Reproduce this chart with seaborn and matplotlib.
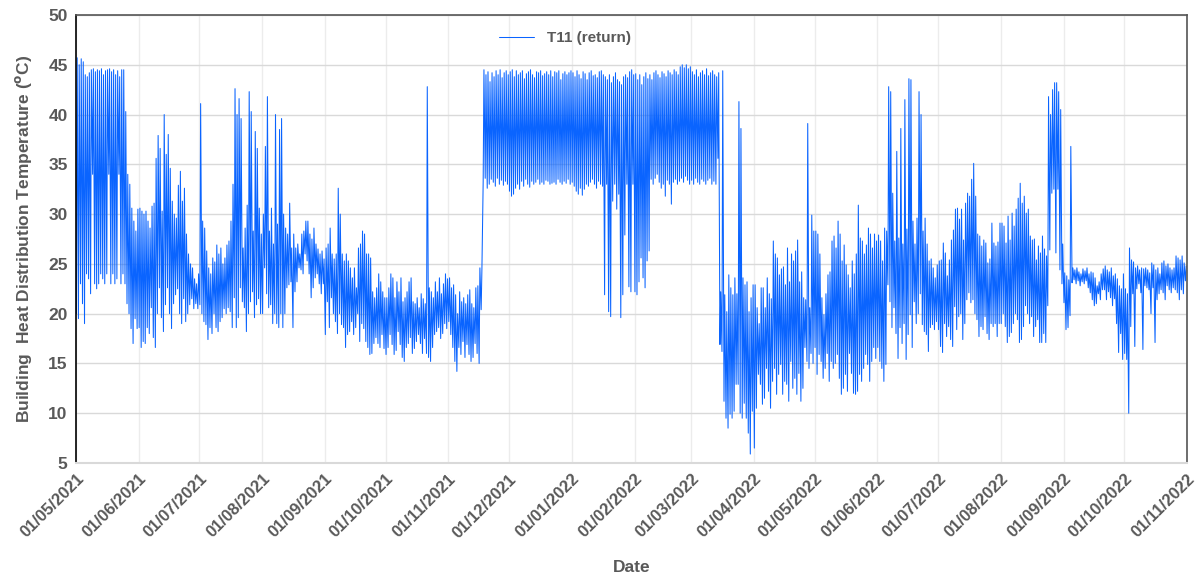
import matplotlib
matplotlib.use("Agg")
import matplotlib.pyplot as plt
import matplotlib.dates as mdates
import numpy as np
import pandas as pd
import seaborn as sns

# Month starts covered by the record
months = ["2021-05", "2021-06", "2021-07", "2021-08", "2021-09", "2021-10",
          "2021-11", "2021-12", "2022-01", "2022-02", "2022-03", "2022-04",
          "2022-05", "2022-06", "2022-07", "2022-08", "2022-09", "2022-10"]

# Daily peak (hi) and trough (lo) of the T11 return temperature, degC
hi_may21 = [45.7, 45.0, 45.6, 45.3, 44.0, 43.8, 44.2, 44.5, 44.6, 44.3, 44.5, 44.4, 44.6, 44.0, 44.4, 44.5,
            44.6, 44.3, 44.5, 44.0, 44.4, 43.8, 44.5, 44.5, 40.3, 34.0, 33.0, 30.6, 29.3, 28.3, 30.5]
lo_may21 = [20.0, 19.5, 23.0, 21.0, 19.0, 24.0, 23.5, 22.0, 34.0, 23.0, 22.5, 23.0, 24.0, 23.5, 23.0, 24.0,
            34.0, 23.0, 24.0, 23.0, 23.5, 34.0, 23.0, 24.0, 23.0, 21.0, 20.0, 18.5, 17.0, 19.5, 18.5]
hi_jun21 = [30.6, 30.3, 30.0, 30.3, 29.3, 28.6, 30.8, 31.1, 35.6, 37.9, 36.6, 30.3, 40.0, 36.0, 38.0,
            34.6, 31.3, 30.0, 29.6, 32.9, 34.3, 31.3, 32.6, 28.0, 26.0, 25.0, 24.6, 23.5, 23.0, 24.0]
lo_jun21 = [18.6, 16.6, 17.2, 17.0, 18.6, 18.0, 20.6, 17.6, 16.6, 20.0, 22.6, 19.6, 18.2, 20.9, 22.6,
            20.0, 18.5, 21.0, 21.9, 22.5, 20.0, 19.0, 21.5, 19.2, 20.0, 20.9, 21.5, 20.5, 21.0, 20.5]
hi_jul21 = [41.1, 29.3, 28.6, 26.3, 24.6, 24.0, 25.6, 25.2, 26.9, 26.0, 26.6, 25.0, 25.6, 26.9, 27.3, 29.3,
            33.0, 42.6, 40.0, 41.6, 39.6, 26.6, 28.6, 30.9, 42.3, 40.3, 28.3, 38.3, 36.6, 30.6, 28.0]
lo_jul21 = [20.9, 20.0, 19.2, 18.9, 17.4, 18.6, 18.0, 20.0, 18.6, 18.2, 19.2, 19.6, 20.5, 20.0, 20.6, 20.2,
            18.6, 21.6, 18.6, 19.6, 22.6, 21.2, 20.6, 18.2, 20.0, 21.2, 22.2, 19.6, 20.9, 21.5, 20.0]
hi_aug21 = [30.0, 36.8, 41.8, 28.3, 30.6, 27.0, 40.0, 29.0, 38.5, 39.6, 30.0, 28.6, 28.0, 31.1, 26.6, 28.0,
            26.6, 27.0, 26.0, 28.0, 28.3, 29.3, 29.3, 28.0, 27.5, 28.6, 27.0, 26.5, 26.0, 26.3, 25.5]
lo_aug21 = [20.0, 24.6, 22.0, 20.6, 20.9, 19.0, 20.0, 19.0, 18.6, 20.0, 18.6, 20.0, 22.6, 22.9, 23.2, 18.6,
            22.2, 23.2, 24.6, 24.4, 24.0, 26.0, 25.3, 24.0, 21.6, 22.6, 23.6, 24.0, 23.0, 22.0, 23.0]
hi_sep21 = [26.6, 27.0, 28.6, 26.0, 25.5, 26.0, 32.6, 30.0, 26.0, 25.3, 26.0, 25.3, 24.6, 23.6, 24.6,
            22.6, 26.6, 27.0, 28.3, 28.0, 26.0, 26.0, 25.6, 22.2, 21.6, 22.6, 24.0, 23.2, 22.2, 21.6]
lo_sep21 = [17.9, 21.2, 18.6, 21.6, 20.0, 19.2, 18.0, 20.0, 18.9, 18.6, 16.6, 17.9, 18.2, 19.2, 17.9,
            18.6, 20.0, 17.2, 19.0, 18.5, 17.2, 16.6, 15.9, 16.0, 17.0, 17.6, 17.0, 16.6, 17.9, 16.5]
hi_oct21 = [21.6, 22.6, 24.0, 23.6, 21.6, 23.2, 22.2, 23.6, 21.2, 21.6, 22.2, 23.2, 23.6, 21.2, 21.0, 21.6,
            20.6, 22.0, 21.5, 21.0, 42.8, 22.6, 22.2, 21.6, 23.2, 22.2, 23.6, 22.0, 23.0, 24.0, 23.5]
lo_oct21 = [15.9, 16.6, 17.9, 16.9, 15.9, 16.3, 18.2, 16.9, 15.6, 15.2, 16.6, 17.0, 17.6, 16.0, 16.5, 17.2,
            17.9, 17.0, 16.0, 17.5, 16.0, 15.6, 15.2, 16.6, 17.9, 18.2, 18.6, 17.5, 18.0, 19.0, 18.5]
hi_nov21 = [23.6, 22.6, 22.9, 21.9, 20.0, 22.2, 21.2, 21.6, 21.0, 21.9, 22.4, 21.0, 20.6, 22.6, 22.8,
            24.6, 24.5, 44.5, 44.0, 44.3, 43.3, 44.2, 43.8, 44.4, 44.0, 44.5, 43.7, 44.2, 44.4, 44.0]
lo_nov21 = [19.2, 17.9, 16.6, 15.2, 14.2, 16.6, 15.9, 17.2, 15.6, 16.9, 15.9, 15.2, 15.6, 17.0, 16.0,
            15.0, 20.4, 33.3, 33.6, 32.6, 33.0, 33.5, 33.2, 32.8, 33.6, 33.0, 33.4, 32.9, 33.3, 33.0]
hi_dec21 = [44.3, 44.5, 43.8, 44.4, 44.0, 44.2, 44.4, 43.6, 44.1, 44.3, 44.5, 44.0, 43.7, 44.3, 44.2, 44.4,
            43.9, 44.1, 44.3, 44.0, 44.4, 43.8, 44.3, 44.2, 44.4, 43.5, 44.1, 44.3, 44.0, 44.2, 44.4]
lo_dec21 = [32.3, 31.8, 32.0, 32.6, 33.0, 32.5, 33.3, 32.8, 33.5, 33.0, 32.7, 33.3, 33.0, 33.2, 33.5, 33.0,
            33.2, 33.0, 33.4, 33.3, 33.0, 33.1, 33.2, 33.0, 33.5, 33.2, 33.0, 33.3, 33.1, 33.5, 33.0]
hi_jan22 = [44.2, 43.8, 44.4, 44.0, 43.6, 44.3, 44.1, 43.5, 44.2, 44.4, 43.9, 44.0, 43.7, 44.3, 44.4, 44.0,
            43.8, 43.5, 44.0, 43.2, 43.8, 44.2, 43.5, 43.3, 43.0, 43.8, 44.0, 43.7, 44.3, 44.5, 44.0]
lo_jan22 = [33.2, 32.8, 32.3, 32.0, 32.6, 31.9, 32.5, 33.0, 32.8, 33.2, 33.5, 33.0, 32.6, 33.3, 33.0, 32.8,
            21.9, 33.0, 20.2, 19.7, 31.3, 33.0, 30.5, 32.0, 19.6, 21.9, 27.9, 33.0, 22.7, 22.2, 33.0]
hi_feb22 = [44.1, 43.5, 44.0, 43.0, 43.8, 44.2, 43.6, 44.0, 43.5, 44.2, 44.4, 44.0, 43.7, 44.3,
            44.1, 43.8, 44.4, 44.2, 44.0, 44.5, 44.3, 44.0, 44.8, 45.0, 44.7, 45.0, 44.6, 44.8]
lo_feb22 = [22.2, 21.9, 23.2, 25.6, 23.6, 22.6, 25.3, 26.3, 33.5, 33.0, 33.6, 34.0, 33.2, 32.6,
            33.0, 31.8, 33.4, 33.0, 31.0, 33.2, 33.5, 33.0, 33.3, 33.6, 33.2, 33.8, 33.4, 33.0]
hi_mar22 = [44.3, 44.0, 44.5, 43.8, 44.2, 44.4, 44.0, 44.6, 43.9, 44.2, 44.4, 44.0, 43.8, 44.2, 22.2, 44.4,
            21.9, 20.2, 23.9, 22.6, 21.9, 23.6, 22.0, 41.3, 38.6, 23.6, 22.9, 23.2, 20.2, 21.6, 22.9]
lo_mar22 = [33.4, 33.0, 33.6, 33.2, 33.0, 33.5, 33.3, 33.0, 33.4, 33.6, 33.0, 33.3, 33.0, 35.6, 16.9, 16.2,
            11.2, 9.5, 8.5, 9.9, 9.5, 10.2, 12.9, 12.9, 10.0, 9.5, 11.0, 9.5, 8.0, 5.9, 10.2]
hi_apr22 = [22.9, 20.6, 19.0, 22.6, 22.6, 20.6, 23.6, 22.0, 21.5, 27.3, 26.0, 25.6, 23.9, 24.5, 24.7,
            22.9, 26.6, 23.2, 26.0, 25.3, 26.3, 27.4, 23.2, 24.2, 21.6, 21.4, 39.1, 20.6, 29.9, 28.3]
lo_apr22 = [6.5, 10.5, 13.9, 12.9, 10.9, 11.5, 14.5, 12.2, 10.5, 13.2, 14.5, 11.9, 13.9, 14.9, 11.9,
            13.2, 12.9, 11.2, 15.2, 12.5, 13.5, 11.9, 14.0, 11.2, 12.5, 16.6, 15.2, 14.5, 16.0, 15.0]
hi_may22 = [28.3, 28.0, 26.0, 21.6, 19.9, 22.0, 23.9, 24.2, 27.3, 27.8, 26.6, 29.3, 28.0, 25.3, 26.9, 24.9,
            23.9, 22.6, 25.3, 24.0, 26.0, 30.9, 27.6, 27.3, 26.0, 26.9, 28.6, 28.0, 26.6, 28.0, 27.3]
lo_may22 = [16.6, 13.9, 15.9, 15.2, 13.5, 14.5, 16.0, 13.2, 15.2, 14.5, 15.0, 15.9, 13.5, 11.9, 12.5, 13.9,
            12.2, 16.0, 14.0, 12.0, 11.9, 12.2, 13.9, 13.2, 14.5, 15.9, 14.9, 13.2, 15.2, 16.6, 15.5]
hi_jun22 = [27.9, 27.3, 25.3, 28.6, 28.3, 42.8, 42.3, 32.1, 27.3, 36.3, 27.6, 38.6, 27.0, 41.5, 28.5,
            43.6, 43.5, 29.3, 27.0, 29.6, 42.3, 40.0, 28.3, 29.6, 27.0, 25.3, 25.5, 24.6, 23.6, 24.9]
lo_jun22 = [16.6, 15.2, 14.5, 13.2, 14.9, 22.9, 21.2, 18.6, 20.6, 18.0, 15.5, 18.6, 17.0, 19.0, 15.4,
            17.9, 19.9, 16.6, 21.2, 19.0, 20.0, 22.0, 18.9, 18.2, 17.9, 16.2, 18.6, 18.9, 18.4, 19.2]
hi_jul22 = [25.3, 25.4, 27.1, 26.1, 23.8, 25.4, 27.4, 28.4, 30.5, 30.6, 29.5, 30.5, 27.4, 31.1, 32.1, 31.8,
            33.5, 35.1, 31.8, 28.0, 27.8, 26.8, 27.4, 27.1, 25.1, 25.5, 29.1, 27.1, 26.8, 27.2, 29.1]
lo_jul22 = [18.4, 16.7, 16.1, 19.0, 17.7, 18.7, 17.4, 16.7, 20.7, 18.4, 19.7, 20.0, 17.4, 19.0, 21.4, 22.1,
            21.1, 21.4, 20.0, 19.4, 17.7, 18.7, 18.4, 19.7, 18.0, 17.4, 19.0, 18.7, 19.0, 17.7, 19.0]
hi_aug22 = [29.1, 28.8, 27.1, 29.8, 27.4, 30.1, 28.8, 30.5, 31.6, 33.1, 31.1, 31.8, 30.1, 30.5, 27.8, 27.4,
            27.5, 25.4, 26.8, 26.1, 27.8, 26.5, 25.8, 41.8, 40.0, 42.5, 43.2, 43.2, 42.3, 40.5, 27.0]
lo_aug22 = [19.0, 20.0, 18.7, 17.1, 17.7, 18.1, 19.0, 20.0, 19.4, 17.1, 17.4, 18.7, 20.8, 20.0, 19.0, 19.7,
            17.7, 18.7, 19.4, 17.1, 17.1, 18.0, 17.1, 20.8, 26.4, 32.1, 32.5, 26.1, 32.5, 24.4, 23.0]
hi_sep22 = [24.1, 23.8, 23.4, 36.8, 24.6, 24.4, 24.6, 24.2, 24.0, 24.5, 24.3, 24.6, 24.0, 24.2, 24.1,
            23.6, 22.8, 23.2, 24.0, 24.5, 24.8, 24.4, 24.2, 24.6, 23.8, 24.0, 23.5, 22.8, 22.5, 24.0]
lo_sep22 = [21.1, 18.4, 18.6, 19.8, 23.1, 23.4, 23.0, 23.3, 22.8, 23.2, 23.0, 23.3, 22.6, 22.1, 21.4,
            20.8, 21.0, 22.0, 21.4, 22.4, 22.4, 21.4, 22.2, 21.6, 20.8, 21.5, 19.0, 16.1, 18.0, 15.4]
hi_oct22 = [22.5, 22.0, 26.6, 25.4, 25.2, 24.6, 24.8, 24.4, 24.6, 24.5, 24.6, 24.4, 24.1, 25.1, 24.9, 24.4,
            24.6, 24.0, 25.1, 25.3, 24.8, 25.0, 24.6, 24.4, 24.6, 25.8, 25.6, 25.4, 25.8, 25.1, 24.8]
lo_oct22 = [16.0, 15.4, 10.0, 18.7, 22.0, 16.7, 22.5, 23.0, 22.1, 16.4, 22.8, 22.6, 22.4, 20.0, 22.6, 17.1,
            21.4, 22.0, 22.4, 22.1, 21.4, 22.8, 22.4, 22.1, 22.6, 22.4, 22.1, 21.4, 22.4, 22.0, 23.3]

monthly_hi = [hi_may21, hi_jun21, hi_jul21, hi_aug21, hi_sep21, hi_oct21, hi_nov21, hi_dec21, hi_jan22,
              hi_feb22, hi_mar22, hi_apr22, hi_may22, hi_jun22, hi_jul22, hi_aug22, hi_sep22, hi_oct22]
monthly_lo = [lo_may21, lo_jun21, lo_jul21, lo_aug21, lo_sep21, lo_oct21, lo_nov21, lo_dec21, lo_jan22,
              lo_feb22, lo_mar22, lo_apr22, lo_may22, lo_jun22, lo_jul22, lo_aug22, lo_sep22, lo_oct22]

# Night trough early in the day, afternoon peak later: one low and one high per day
times, temps = [], []
for m, his, los in zip(months, monthly_hi, monthly_lo):
    start = pd.Timestamp(m + "-01")
    assert len(his) == len(los) == start.days_in_month, m
    days = pd.date_range(start, periods=len(his), freq="D")
    for d, h, l in zip(days, his, los):
        times += [d + pd.Timedelta(hours=5), d + pd.Timedelta(hours=14)]
        temps += [l, h]
df = pd.DataFrame({"Date": times, "T11 (return)": temps})

sns.set_theme(style="white")
plt.rcParams["font.family"] = ["Liberation Sans", "DejaVu Sans"]
text_grey = "#595959"

fig = plt.figure(figsize=(11.99, 5.74), dpi=100)
W, H = 1199, 574
ax = fig.add_axes([76 / W, 1 - 463 / H, (1187 - 76) / W, (463 - 15) / H])

sns.lineplot(data=df, x="Date", y="T11 (return)", ax=ax, color="#0a64ff",
             linewidth=0.75, estimator=None, label="T11 (return)")

ax.set_xlim(pd.Timestamp("2021-05-01"), pd.Timestamp("2022-11-01"))
ax.set_ylim(5, 50)
ax.set_yticks(np.arange(5, 51, 5))
ax.xaxis.set_major_locator(mdates.MonthLocator())
ax.xaxis.set_major_formatter(mdates.DateFormatter("%d/%m/%Y"))

ax.set_axisbelow(True)
ax.grid(axis="y", color="#d9d9d9", linewidth=1.0)
ax.grid(axis="x", color="#ececec", linewidth=1.0)

for side in ["top", "right"]:
    ax.spines[side].set_color("#555555")
    ax.spines[side].set_linewidth(1.2)
ax.spines["left"].set_color("#000000")
ax.spines["left"].set_linewidth(1.2)
ax.spines["bottom"].set_color("#d9d9d9")
ax.spines["bottom"].set_linewidth(1.5)

ax.tick_params(axis="both", length=0, pad=6)
for lab in ax.get_yticklabels():
    lab.set_fontsize(12.5)
    lab.set_fontweight("bold")
    lab.set_color(text_grey)
for lab in ax.get_xticklabels():
    lab.set_fontsize(12)
    lab.set_fontweight("bold")
    lab.set_color(text_grey)
    lab.set_rotation(45)
    lab.set_ha("right")
    lab.set_rotation_mode("anchor")

ax.set_xlabel("Date", fontsize=12.5, fontweight="bold", color=text_grey, labelpad=14)
ax.set_ylabel(r"Building  Heat Distribution Temperature ($^{\mathbf{o}}$C)", fontsize=12.5,
              fontweight="bold", color=text_grey, labelpad=10)

leg = ax.legend(loc="center", bbox_to_anchor=(0.44, 0.949), frameon=False,
                handlelength=2.3, fontsize=11)
for t in leg.get_texts():
    t.set_fontweight("bold")
    t.set_color(text_grey)

fig.savefig("out.png", dpi=100)
